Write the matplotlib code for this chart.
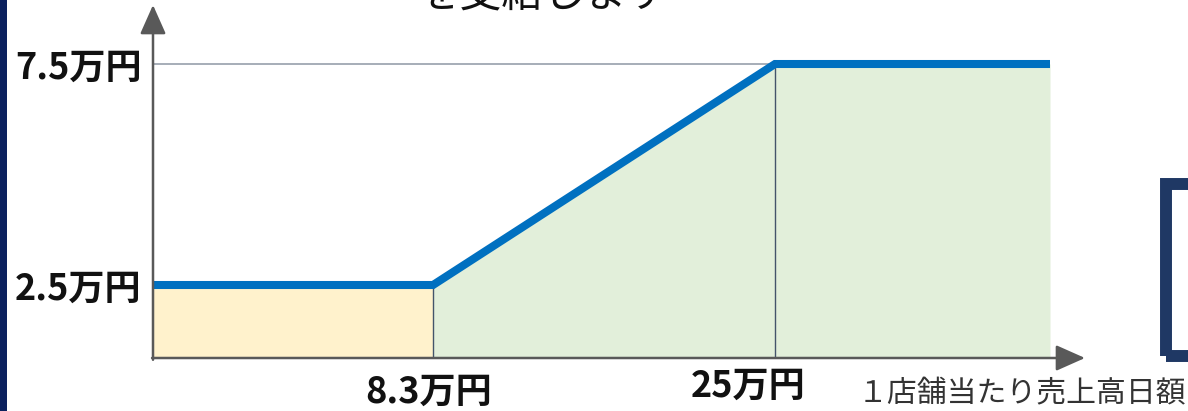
import matplotlib

matplotlib.use("Agg")

import numpy as np
import matplotlib.pyplot as plt
from matplotlib.patches import Rectangle

plt.rcParams["font.family"] = ["Noto Sans CJK JP", "DejaVu Sans"]

# breakpoints of the subsidy schedule (万円)
sales_x = [0, 8.3, 25, 35]
amount_y = [2.5, 2.5, 7.5, 7.5]
x_tick_vals = [8.3, 25]
x_tick_labels = ["8.3万円", "25万円"]
y_tick_vals = [2.5, 7.5]
y_tick_labels = ["2.5万円", "7.5万円"]
x_title = "１店舗当たり売上高日額"
top_text = "を支給します"

W, H = 1188, 411

# schematic (not to scale) axes: data knots -> pixel distance along the axis
X_KNOTS = [0, 8.3, 25, 35, 37]
X_PIX = [0, 280, 622, 897, 932]
Y_KNOTS = [0, 2.5, 7.5, 9]
Y_PIX = [0, 73, 294, 353]


def fwd(knots, pix):
    return lambda v: np.interp(v, knots, pix)


def inv(knots, pix):
    return lambda v: np.interp(v, pix, knots)


fig = plt.figure(figsize=(W / 100, H / 100), dpi=100)
ax = fig.add_axes([153 / W, (H - 358) / H, 932 / W, 353 / H])
ax.set_xscale("function", functions=(fwd(X_KNOTS, X_PIX), inv(X_KNOTS, X_PIX)))
ax.set_yscale("function", functions=(fwd(Y_KNOTS, Y_PIX), inv(Y_KNOTS, Y_PIX)))
ax.set_xlim(0, 37)
ax.set_ylim(0, 9)
for s in ax.spines.values():
    s.set_visible(False)

# shaded areas
ax.fill_between(sales_x[:2], 0, amount_y[:2], color="#fff2cc", lw=0, zorder=1)
ax.fill_between(sales_x[1:], 0, amount_y[1:], color="#e2efda", lw=0, zorder=1)

# guide lines
ax.hlines(y_tick_vals[1], 0, x_tick_vals[1], color="#a6adb8", lw=1.4, zorder=2)
ax.vlines(x_tick_vals[0], 0, y_tick_vals[0], color="#44546a", lw=1.0, zorder=2)
ax.vlines(x_tick_vals[1], 0, y_tick_vals[1], color="#44546a", lw=1.0, zorder=2)

ax.plot(sales_x, amount_y, color="#0070c0", lw=5.8, solid_capstyle="butt",
        solid_joinstyle="miter", zorder=3)

# axes with arrows
arrow = dict(arrowstyle="-|>,head_length=0.9,head_width=0.4", color="#595959",
             lw=1.8, mutation_scale=20, shrinkA=0, shrinkB=0)
ax.annotate("", xy=(0, 1), xytext=(0, -0.005), xycoords="axes fraction",
            arrowprops=arrow, annotation_clip=False, zorder=4)
ax.annotate("", xy=(1, 0), xytext=(-0.001, 0), xycoords="axes fraction",
            arrowprops=arrow, annotation_clip=False, zorder=4)

ax.set_yticks(y_tick_vals)
ax.set_yticklabels(y_tick_labels, fontsize=26, fontweight="bold", color="#111111")
ax.set_xticks([])
ax.tick_params(axis="y", length=0, pad=8)

offsets = [(-3, -25), (-19, -20)]
for xv, lab, off in zip(x_tick_vals, x_tick_labels, offsets):
    ax.annotate(lab, xy=(xv, 0), xytext=off, textcoords="offset points",
                ha="center", va="center", fontsize=26, fontweight="bold",
                color="#111111", annotation_clip=False)

fig.text(858 / W, 1 - 394 / H, x_title, ha="left", va="center", fontsize=21.5,
         color="#333333")
fig.text(418 / W, 1 - 7 / H, top_text, ha="left", va="baseline", fontsize=30,
         color="#111111")

# left border and the box edge on the right
fig.add_artist(Rectangle((0, 0), 7 / W, 1, transform=fig.transFigure,
                         color="#0b215e", lw=0))
fig.add_artist(Rectangle((1166 / W, 1 - 356 / H), 120 / W, 172 / H,
                         transform=fig.transFigure, fill=False,
                         edgecolor="#1f3864", lw=8.6, joinstyle="miter"))

fig.savefig("out.png", dpi=100)
